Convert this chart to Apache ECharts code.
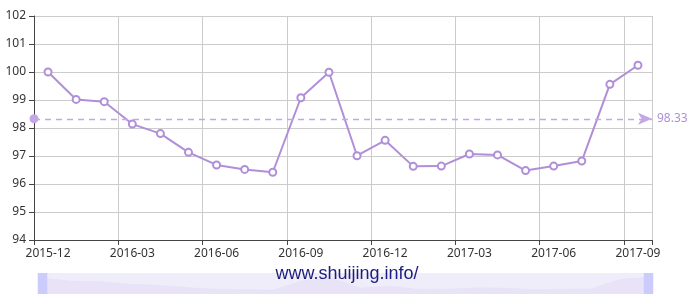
<!DOCTYPE html>
<html>
<head>
<meta charset="utf-8">
<script src="https://cdn.jsdelivr.net/npm/echarts@6/dist/echarts.min.js"></script>
<style>html,body{margin:0;padding:0;background:#fff}#c{width:694px;height:308px}</style>
</head>
<body>
<div id="c"></div>
<script>
var categories = ['2015-12','2016-01','2016-02','2016-03','2016-04','2016-05','2016-06','2016-07','2016-08','2016-09','2016-10','2016-11','2016-12','2017-01','2017-02','2017-03','2017-04','2017-05','2017-06','2017-07','2017-08','2017-09'];
var values = [100.0, 99.02, 98.94, 98.14, 97.80, 97.13, 96.68, 96.52, 96.42, 99.08, 99.99, 97.01, 97.56, 96.63, 96.64, 97.07, 97.04, 96.48, 96.64, 96.82, 99.56, 100.24];
var refLineValue = 98.33;
var watermark = 'www.shuijing.info/';

var chart = echarts.init(document.getElementById('c'), null, {renderer: 'canvas'});
var purple = '#b08fd8';
chart.setOption({
  animation: false,
  textStyle: {fontFamily: 'Noto Sans'},
  grid: {left: 34, right: 42, top: 16, bottom: 68, containLabel: false},
  xAxis: {
    type: 'category',
    data: categories,
    boundaryGap: true,
    axisLine: {show: true, lineStyle: {color: '#444', width: 1}},
    axisTick: {show: true, interval: 2, lineStyle: {color: '#444'}},
    axisLabel: {interval: 2, color: '#333', fontSize: 12, margin: 8},
    splitLine: {show: true, interval: 2, lineStyle: {color: '#ccc'}}
  },
  yAxis: {
    type: 'value',
    min: 94, max: 102, interval: 1,
    axisLine: {show: true, lineStyle: {color: '#444', width: 1}},
    axisTick: {show: true, lineStyle: {color: '#444'}},
    axisLabel: {color: '#333', fontSize: 12, margin: 8},
    splitLine: {show: true, lineStyle: {color: '#ccc'}}
  },
  dataZoom: [{
    type: 'slider',
    left: 39, right: 47, top: 273, height: 21,
    start: 0, end: 100,
    showDetail: false,
    brushSelect: false,
    moveHandleSize: 0,
    borderColor: 'transparent',
    backgroundColor: 'rgba(0,0,0,0)',
    fillerColor: 'rgba(225,220,246,0.5)',
    handleIcon: 'path://M0,0 L10,0 L10,22 L0,22 Z',
    handleSize: '100%',
    handleStyle: {color: '#ccccfc', borderColor: '#ccccfc', borderWidth: 0},
    dataBackground: {
      lineStyle: {color: 'rgba(220,212,244,0.5)', width: 0.5},
      areaStyle: {color: 'rgba(215,207,243,0.4)', opacity: 1}
    },
    selectedDataBackground: {
      lineStyle: {color: 'rgba(220,212,244,0.5)', width: 0.5},
      areaStyle: {color: 'rgba(215,207,243,0.4)', opacity: 1}
    }
  }],
  graphic: [{
    type: 'text',
    left: 'center',
    top: 265,
    style: {text: watermark, fill: '#1c1c80', font: '18px "Liberation Sans", Arial, sans-serif'},
    z: 100
  }],
  series: [{
    type: 'line',
    data: values,
    symbol: 'emptyCircle',
    symbolSize: 7,
    lineStyle: {color: purple, width: 2},
    itemStyle: {color: purple, borderWidth: 1.5},
    markLine: {
      silent: true,
      symbol: ['circle', 'arrow'],
      symbolSize: [9, 14],
      lineStyle: {color: '#c4a8e6', type: [6, 5], width: 1.3, opacity: 1},
      itemStyle: {color: '#b898dc'},
      label: {position: 'end', color: '#b08fd8', fontSize: 12, formatter: function(p){return p.value.toFixed(2);}},
      data: [{yAxis: refLineValue}]
    }
  }]
});
</script>
</body>
</html>
